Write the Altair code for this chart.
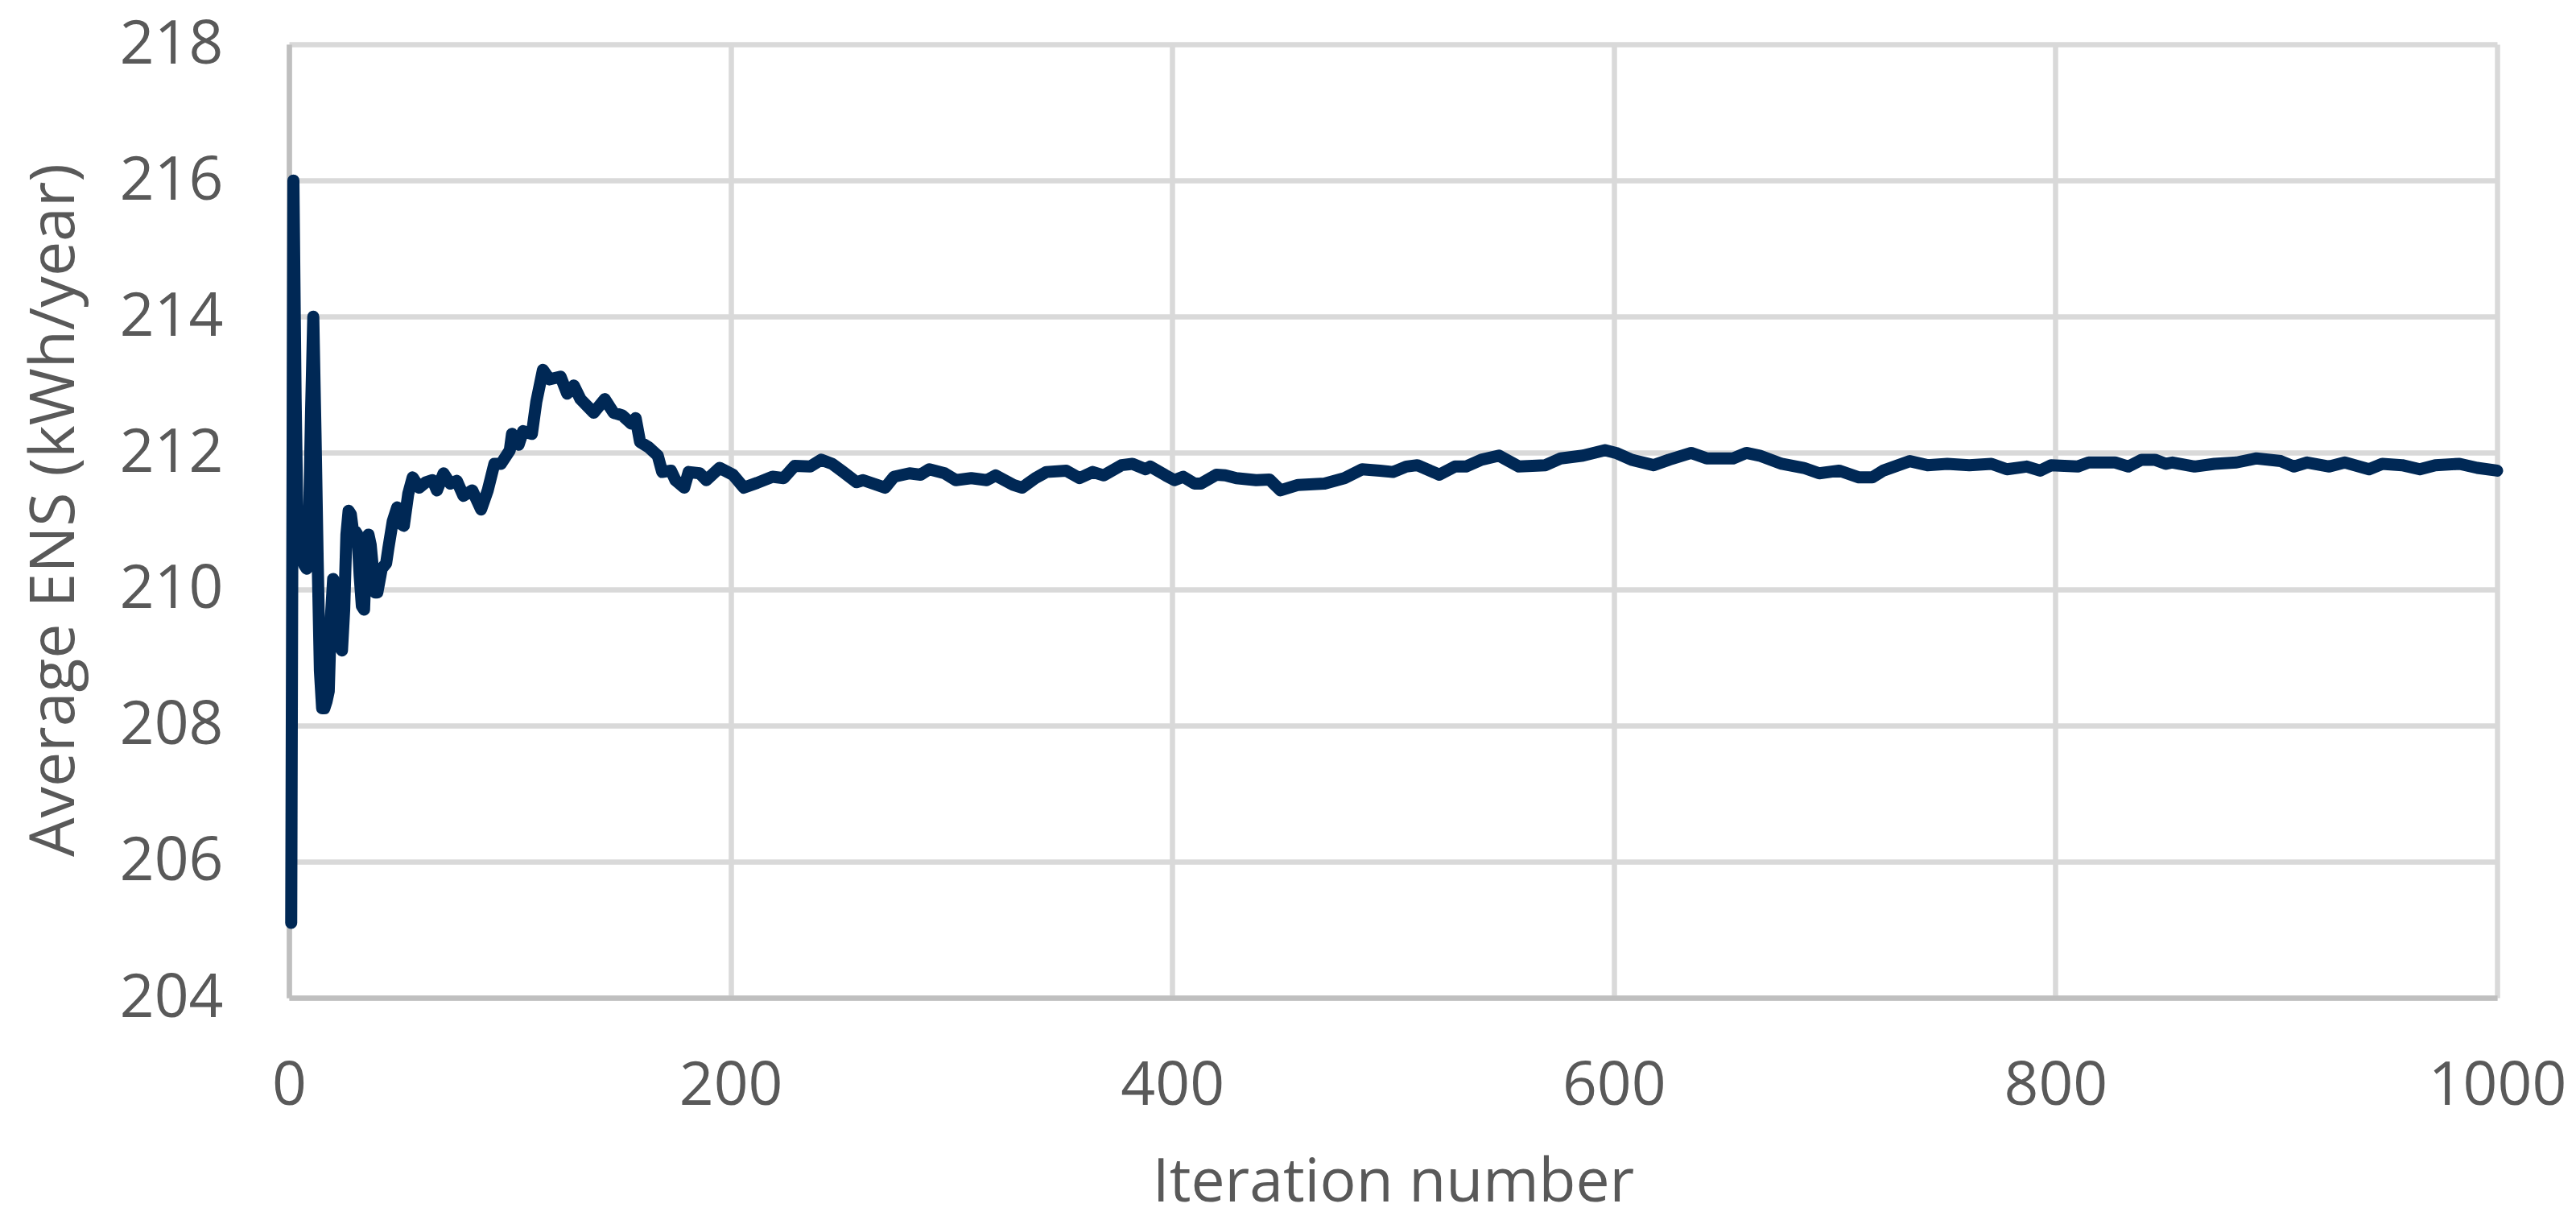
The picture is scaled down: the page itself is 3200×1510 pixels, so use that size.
import altair as alt
import pandas as pd

# Iteration numbers (x) and running-average ENS values (y)
iterations = [
    1, 2, 3, 4, 5, 6, 7, 8, 9, 10, 11, 12, 13, 14, 15, 16, 17, 18, 19, 20,
    21, 22, 23, 24, 25, 26, 27, 28, 29, 30, 31, 32, 33, 34, 35, 36, 37, 38, 39, 40,
    42, 44, 45, 47, 49, 51, 52, 54, 56, 59, 62, 65, 67, 70, 73, 76, 79, 83, 87, 90,
    93, 96, 100, 101, 104, 106, 110, 112, 115, 118, 123, 126, 129, 132, 138, 143, 147, 151, 155, 157,
    159, 163, 167, 169, 173, 175, 179, 181, 186, 189, 195, 201, 206, 212,
    219, 224, 229, 236, 241, 246, 251, 257, 260, 270, 274, 281, 286, 290, 297, 302, 309, 316, 320, 328,
    332, 338, 343, 352, 358, 364, 369,
    377, 382, 388, 390, 397, 401, 405, 410, 413, 420, 424, 429, 438, 444, 449, 457, 469, 478, 486, 494,
    500, 506, 511, 521, 528, 533,
    540, 548, 557, 569, 576, 586, 596, 601, 608, 618, 625, 635, 642, 654, 660, 666, 676, 686, 693,
    702, 711, 717, 722, 734, 742, 751, 761, 771, 778, 787, 793, 798, 810, 815, 827, 833, 839, 845, 850, 853,
    863, 872, 882, 891, 902, 908, 914, 924, 931, 942, 948, 957, 965, 972, 983, 991, 1000,
]
ens_values = [
    205.1, 216.0, 212.8, 210.6, 210.8, 210.45, 210.35, 210.3, 210.9, 212.6, 214.0, 212.3, 210.4, 208.8, 208.25, 208.25, 208.35, 208.5, 209.6, 210.15,
    209.9, 209.45, 209.15, 209.1, 209.7, 210.8, 211.15, 211.1, 210.85, 210.85, 210.8, 210.2, 209.75, 209.7, 210.6, 210.8, 210.65, 210.3, 209.95, 209.95,
    210.3, 210.38, 210.6, 211.0, 211.2, 210.95, 210.93, 211.4, 211.64, 211.49, 211.57, 211.6, 211.45, 211.7, 211.55, 211.59, 211.37, 211.45, 211.17, 211.45,
    211.84, 211.84, 212.04, 212.28, 212.12, 212.32, 212.28, 212.75, 213.22, 213.08, 213.12, 212.87, 212.99, 212.79, 212.59, 212.79, 212.59, 212.55, 212.43, 212.51,
    212.16, 212.08, 211.96, 211.72, 211.74, 211.6, 211.49, 211.72, 211.7, 211.6, 211.78, 211.68, 211.49, 211.56,
    211.65, 211.63, 211.81, 211.8, 211.9, 211.84, 211.72, 211.57, 211.6, 211.49, 211.65, 211.7, 211.68, 211.76, 211.7, 211.6, 211.63, 211.6, 211.67, 211.53,
    211.49, 211.63, 211.72, 211.74, 211.63, 211.72, 211.67,
    211.82, 211.84, 211.76, 211.8, 211.67, 211.6, 211.65, 211.55, 211.55, 211.68, 211.67, 211.63, 211.6, 211.61, 211.45, 211.53, 211.55, 211.63, 211.76, 211.74,
    211.72, 211.8, 211.82, 211.68, 211.8, 211.8,
    211.9, 211.96, 211.8, 211.82, 211.92, 211.96, 212.04, 212.0, 211.9, 211.82, 211.9, 212.0, 211.92, 211.92, 212.0, 211.96, 211.84, 211.78, 211.7,
    211.74, 211.64, 211.64, 211.74, 211.88, 211.82, 211.84, 211.82, 211.84, 211.76, 211.8, 211.74, 211.82, 211.8, 211.86, 211.86, 211.8, 211.9, 211.9, 211.84, 211.86,
    211.8, 211.84, 211.86, 211.92, 211.88, 211.8, 211.86, 211.8, 211.86, 211.76, 211.84, 211.82, 211.76, 211.82, 211.84, 211.78, 211.74,
]

x_ticks = [0, 200, 400, 600, 800, 1000]
y_ticks = [204, 206, 208, 210, 212, 214, 216, 218]

df = pd.DataFrame({"iteration": iterations, "ens": ens_values})

chart = (
    alt.Chart(df)
    .mark_line(color="#002855", strokeWidth=15, strokeCap="round", strokeJoin="round")
    .encode(
        x=alt.X(
            "iteration:Q",
            scale=alt.Scale(domain=[0, 1000], nice=False),
            axis=alt.Axis(values=x_ticks, format="d", title="Iteration number",
                          labelPadding=73, titlePadding=46),
        ),
        y=alt.Y(
            "ens:Q",
            scale=alt.Scale(domain=[204, 218], nice=False, zero=False),
            axis=alt.Axis(values=y_ticks, format="d", title="Average ENS (kWh/year)",
                          labelPadding=82, titlePadding=52, titleFontSize=77, titleY=578),
        ),
    )
    .properties(
        width=2743,
        height=1184,
        padding={"left": 351, "top": 47, "right": 90, "bottom": 262},
        autosize=alt.AutoSizeParams(type="none"),
        background="white",
    )
    .configure_view(stroke=None)
    .configure_axis(
        labelFont="Open Sans",
        labelFontSize=75,
        labelColor="#595959",
        labelLimit=0,
        titleFont="Open Sans",
        titleFontSize=75,
        titleFontWeight="normal",
        titleColor="#595959",
        titleLimit=0,
        gridColor="#d9d9d9",
        gridWidth=6.5,
        domainColor="#bfbfbf",
        domainWidth=6.5,
        ticks=False,
        tickSize=0,
        labelFlush=False,
        labelOverlap=False,
    )
)

chart.save("out.html", embed_options={"renderer": "svg", "actions": False})
